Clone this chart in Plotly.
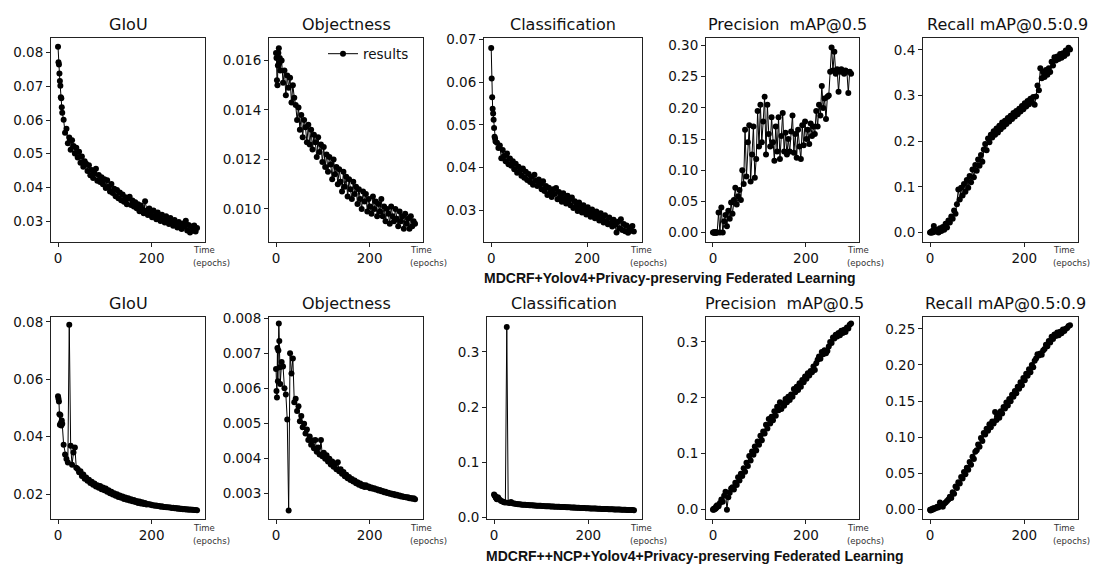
import plotly.graph_objects as go

W, H = 1097, 574

epochs = list(range(0, 10)) + list(range(12, 300, 3))

# ---- Row 1: MDCRF+Yolov4+Privacy-preserving Federated Learning ----
top_giou = [
    0.0818, 0.0772, 0.0765, 0.0738, 0.0716, 0.0702, 0.0668, 0.0665, 0.0638, 0.0622,
    0.0601, 0.0562, 0.0574, 0.0531, 0.0548, 0.0512, 0.0540, 0.0523, 0.0501, 0.0518,
    0.0489, 0.0506, 0.0473, 0.0492, 0.0461, 0.0478, 0.0470, 0.0449, 0.0466, 0.0436,
    0.0452, 0.0428, 0.0441, 0.0455, 0.0420, 0.0437, 0.0416, 0.0430, 0.0409, 0.0424,
    0.0398, 0.0421, 0.0402, 0.0388, 0.0410, 0.0383, 0.0396, 0.0374, 0.0392, 0.0368,
    0.0385, 0.0362, 0.0379, 0.0357, 0.0371, 0.0350, 0.0366, 0.0372, 0.0348, 0.0361,
    0.0343, 0.0356, 0.0338, 0.0350, 0.0329, 0.0346, 0.0336, 0.0323, 0.0359, 0.0331,
    0.0318, 0.0337, 0.0322, 0.0311, 0.0331, 0.0316, 0.0305, 0.0325, 0.0312, 0.0300,
    0.0319, 0.0303, 0.0296, 0.0314, 0.0299, 0.0291, 0.0309, 0.0294, 0.0286, 0.0303,
    0.0291, 0.0281, 0.0297, 0.0287, 0.0276, 0.0293, 0.0283, 0.0301, 0.0272, 0.0288,
    0.0266, 0.0284, 0.0271, 0.0287, 0.0269, 0.0279,
]
top_obj = [
    0.0163, 0.0161, 0.0152, 0.0150, 0.0158, 0.0163, 0.0165, 0.0159, 0.0161, 0.0156,
    0.0160, 0.0151, 0.0156, 0.0146, 0.0154, 0.0149, 0.0153, 0.0143, 0.0150, 0.0145,
    0.0142, 0.0136, 0.0141, 0.0132, 0.0138, 0.0129, 0.0136, 0.0133, 0.0127, 0.0134,
    0.0126, 0.0132, 0.0124, 0.0130, 0.0127, 0.0121, 0.0129, 0.0123, 0.0126, 0.0119,
    0.0125, 0.0117, 0.0122, 0.0115, 0.0121, 0.0118, 0.0112, 0.0120, 0.0114, 0.0117,
    0.0110, 0.0116, 0.0111, 0.0107, 0.0115, 0.0109, 0.0113, 0.0105, 0.0112, 0.0108,
    0.0104, 0.0111, 0.0106, 0.0109, 0.0102, 0.0108, 0.0104, 0.0100, 0.0107, 0.0103,
    0.0106, 0.0099, 0.0104, 0.0101, 0.0098, 0.0105, 0.0100, 0.0103, 0.0097, 0.0102,
    0.0099, 0.0104, 0.0097, 0.0101, 0.0095, 0.0100, 0.0098, 0.0094, 0.0101, 0.0097,
    0.0095, 0.0100, 0.0096, 0.0093, 0.0099, 0.0095, 0.0097, 0.0092, 0.0098, 0.0094,
    0.0096, 0.0092, 0.0097, 0.0093, 0.0095, 0.0094,
]
top_cls = [
    0.0680, 0.0609, 0.0565, 0.0538, 0.0527, 0.0512, 0.0493, 0.0472, 0.0468, 0.0461,
    0.0458, 0.0446, 0.0452, 0.0422, 0.0441, 0.0427, 0.0415, 0.0433, 0.0408, 0.0421,
    0.0404, 0.0415, 0.0396, 0.0409, 0.0388, 0.0402, 0.0392, 0.0381, 0.0398, 0.0376,
    0.0390, 0.0371, 0.0385, 0.0366, 0.0378, 0.0360, 0.0383, 0.0369, 0.0357, 0.0372,
    0.0361, 0.0349, 0.0368, 0.0345, 0.0357, 0.0336, 0.0353, 0.0341, 0.0331, 0.0349,
    0.0338, 0.0352, 0.0326, 0.0343, 0.0331, 0.0320, 0.0340, 0.0327, 0.0316, 0.0334,
    0.0323, 0.0312, 0.0330, 0.0305, 0.0321, 0.0310, 0.0298, 0.0318, 0.0306, 0.0295,
    0.0312, 0.0300, 0.0290, 0.0307, 0.0295, 0.0285, 0.0302, 0.0291, 0.0281, 0.0297,
    0.0286, 0.0276, 0.0293, 0.0280, 0.0271, 0.0288, 0.0275, 0.0267, 0.0283, 0.0270,
    0.0262, 0.0278, 0.0266, 0.0248, 0.0273, 0.0258, 0.0279, 0.0254, 0.0268, 0.0251,
    0.0264, 0.0247, 0.0259, 0.0252, 0.0263, 0.0250,
]
top_prec = [
    0.000, 0.000, 0.000, 0.000, 0.000, 0.000, 0.000, 0.000, 0.000, 0.000,
    0.032, 0.000, 0.040, 0.000, 0.018, 0.028, 0.010, 0.035, 0.022, 0.048,
    0.030, 0.052, 0.072, 0.045, 0.058, 0.068, 0.052, 0.100, 0.078, 0.165,
    0.090, 0.145, 0.172, 0.082, 0.125, 0.170, 0.088, 0.118, 0.195, 0.138,
    0.205, 0.145, 0.178, 0.218, 0.125, 0.205, 0.158, 0.138, 0.185, 0.145,
    0.115, 0.170, 0.130, 0.185, 0.118, 0.155, 0.192, 0.130, 0.160, 0.125,
    0.150, 0.130, 0.162, 0.188, 0.128, 0.158, 0.120, 0.165, 0.138, 0.118,
    0.172, 0.140, 0.178, 0.150, 0.165, 0.142, 0.175, 0.155, 0.170, 0.158,
    0.195, 0.170, 0.205, 0.188, 0.235, 0.200, 0.215, 0.182, 0.218, 0.220,
    0.258, 0.297, 0.260, 0.290, 0.255, 0.262, 0.226, 0.258, 0.262, 0.258,
    0.255, 0.260, 0.258, 0.224, 0.258, 0.255,
]
top_rec = [
    0.000, 0.000, 0.001, 0.000, 0.002, 0.000, 0.004, 0.001, 0.014, 0.003,
    0.002, 0.006, 0.000, 0.009, 0.003, 0.012, 0.006, 0.019, 0.011, 0.026,
    0.022, 0.035, 0.030, 0.048, 0.041, 0.062, 0.094, 0.072, 0.098, 0.081,
    0.106, 0.089, 0.115, 0.098, 0.124, 0.110, 0.138, 0.121, 0.148, 0.135,
    0.160, 0.146, 0.170, 0.155, 0.182, 0.194, 0.180, 0.206, 0.198, 0.214,
    0.208, 0.222, 0.214, 0.228, 0.219, 0.234, 0.226, 0.241, 0.232, 0.245,
    0.238, 0.251, 0.243, 0.256, 0.249, 0.262, 0.254, 0.266, 0.259, 0.271,
    0.265, 0.277, 0.270, 0.283, 0.276, 0.288, 0.281, 0.293, 0.286, 0.297,
    0.280, 0.298, 0.322, 0.312, 0.360, 0.338, 0.352, 0.341, 0.356, 0.346,
    0.360, 0.352, 0.374, 0.366, 0.384, 0.377, 0.386, 0.380, 0.391, 0.383,
    0.393, 0.387, 0.399, 0.392, 0.405, 0.401,
]

# ---- Row 2: MDCRF++NCP+Yolov4+Privacy-preserving Federated Learning ----
bot_giou = [
    0.0541, 0.0532, 0.0523, 0.0478, 0.0442, 0.0476, 0.0448, 0.0439, 0.0456, 0.0445,
    0.0372, 0.0338, 0.0322, 0.0310, 0.0790, 0.0368, 0.0302, 0.0345, 0.0362, 0.0292,
    0.0287, 0.0276, 0.0279, 0.0263, 0.0268, 0.0253, 0.0258, 0.0246, 0.0250, 0.0238,
    0.0243, 0.0232, 0.0237, 0.0226, 0.0231, 0.0222, 0.0228, 0.0217, 0.0223, 0.0213,
    0.0219, 0.0208, 0.0213, 0.0203, 0.0208, 0.0198, 0.0203, 0.0194, 0.0199, 0.0190,
    0.0195, 0.0187, 0.0191, 0.0183, 0.0188, 0.0180, 0.0185, 0.0177, 0.0182, 0.0175,
    0.0179, 0.0172, 0.0176, 0.0169, 0.0174, 0.0167, 0.0171, 0.0165, 0.0169, 0.0163,
    0.0165, 0.0163, 0.0163, 0.0161, 0.0161, 0.0159, 0.0160, 0.0158, 0.0158, 0.0156,
    0.0157, 0.0155, 0.0155, 0.0154, 0.0154, 0.0153, 0.0153, 0.0151, 0.0152, 0.0150,
    0.0151, 0.0149, 0.0150, 0.0148, 0.0149, 0.0147, 0.0148, 0.0146, 0.0147, 0.0145,
    0.0146, 0.0145, 0.0145, 0.0144, 0.0144, 0.0143,
]
bot_obj = [
    0.00655, 0.00592, 0.00573, 0.00715, 0.00620, 0.00708, 0.00785, 0.00735, 0.00660, 0.00612,
    0.00675, 0.00662, 0.00600, 0.00582, 0.00510, 0.00250, 0.00700, 0.00642, 0.00685, 0.00560,
    0.00570, 0.00535, 0.00548, 0.00505, 0.00520, 0.00488, 0.00498, 0.00470, 0.00482, 0.00452,
    0.00462, 0.00438, 0.00450, 0.00428, 0.00452, 0.00418, 0.00430, 0.00410, 0.00452, 0.00405,
    0.00415, 0.00398, 0.00408, 0.00390, 0.00398, 0.00382, 0.00390, 0.00375, 0.00383, 0.00368,
    0.00388, 0.00362, 0.00368, 0.00355, 0.00360, 0.00348, 0.00352, 0.00342, 0.00346, 0.00337,
    0.00340, 0.00333, 0.00336, 0.00328, 0.00331, 0.00324, 0.00327, 0.00320, 0.00323, 0.00317,
    0.00322, 0.00317, 0.00319, 0.00314, 0.00316, 0.00312, 0.00314, 0.00310, 0.00311, 0.00307,
    0.00309, 0.00305, 0.00306, 0.00302, 0.00304, 0.00300, 0.00301, 0.00298, 0.00299, 0.00296,
    0.00297, 0.00294, 0.00295, 0.00292, 0.00293, 0.00290, 0.00291, 0.00289, 0.00289, 0.00287,
    0.00288, 0.00285, 0.00286, 0.00284, 0.00285, 0.00282,
]
bot_cls = [
    0.0412, 0.0398, 0.0385, 0.0371, 0.0352, 0.0340, 0.0328, 0.0335, 0.0362, 0.0348,
    0.0318, 0.0296, 0.0284, 0.0272, 0.0265, 0.3450, 0.0262, 0.0258, 0.0278, 0.0255,
    0.0248, 0.0243, 0.0240, 0.0236, 0.0233, 0.0230, 0.0228, 0.0226, 0.0224, 0.0222,
    0.0220, 0.0218, 0.0217, 0.0215, 0.0213, 0.0212, 0.0210, 0.0209, 0.0207, 0.0206,
    0.0204, 0.0203, 0.0201, 0.0200, 0.0198, 0.0197, 0.0196, 0.0194, 0.0193, 0.0192,
    0.0190, 0.0189, 0.0188, 0.0186, 0.0185, 0.0184, 0.0183, 0.0181, 0.0180, 0.0179,
    0.0178, 0.0176, 0.0175, 0.0174, 0.0173, 0.0171, 0.0170, 0.0169, 0.0168, 0.0166,
    0.0165, 0.0164, 0.0163, 0.0162, 0.0160, 0.0159, 0.0158, 0.0157, 0.0156, 0.0155,
    0.0154, 0.0153, 0.0151, 0.0150, 0.0149, 0.0148, 0.0147, 0.0146, 0.0145, 0.0144,
    0.0143, 0.0142, 0.0141, 0.0140, 0.0139, 0.0138, 0.0137, 0.0136, 0.0135, 0.0134,
    0.0133, 0.0132, 0.0131, 0.0130, 0.0129, 0.0128,
]
bot_prec = [
    0.000, 0.001, 0.000, 0.002, 0.001, 0.003, 0.002, 0.006, 0.004, 0.008,
    0.006, 0.012, 0.018, 0.014, 0.025, 0.032, 0.000, 0.022, 0.030, 0.038,
    0.040, 0.036, 0.048, 0.044, 0.058, 0.052, 0.064, 0.060, 0.074, 0.068,
    0.084, 0.078, 0.096, 0.088, 0.104, 0.098, 0.113, 0.106, 0.122, 0.116,
    0.132, 0.124, 0.140, 0.136, 0.152, 0.145, 0.162, 0.154, 0.166, 0.160,
    0.176, 0.168, 0.184, 0.178, 0.192, 0.180, 0.190, 0.186, 0.198, 0.192,
    0.202, 0.196, 0.206, 0.202, 0.216, 0.210, 0.220, 0.214, 0.226, 0.220,
    0.232, 0.228, 0.238, 0.234, 0.244, 0.240, 0.248, 0.246, 0.256, 0.250,
    0.262, 0.268, 0.274, 0.270, 0.282, 0.278, 0.285, 0.280, 0.284, 0.292,
    0.300, 0.298, 0.308, 0.306, 0.313, 0.310, 0.316, 0.312, 0.320, 0.316,
    0.322, 0.318, 0.326, 0.324, 0.331, 0.333,
]
bot_rec = [
    0.000, -0.001, 0.000, 0.000, 0.001, 0.000, 0.001, 0.002, 0.001, 0.002,
    0.002, 0.004, 0.003, 0.010, 0.006, 0.004, 0.008, 0.010, 0.012, 0.014,
    0.018, 0.016, 0.024, 0.022, 0.032, 0.030, 0.038, 0.036, 0.045, 0.043,
    0.052, 0.049, 0.058, 0.055, 0.066, 0.062, 0.073, 0.070, 0.080, 0.082,
    0.090, 0.087, 0.099, 0.095, 0.106, 0.104, 0.112, 0.109, 0.118, 0.114,
    0.122, 0.119, 0.135, 0.124, 0.130, 0.127, 0.136, 0.133, 0.142, 0.140,
    0.148, 0.144, 0.153, 0.150, 0.159, 0.156, 0.164, 0.161, 0.170, 0.167,
    0.176, 0.172, 0.182, 0.179, 0.188, 0.185, 0.194, 0.190, 0.200, 0.197,
    0.206, 0.209, 0.215, 0.213, 0.216, 0.214, 0.220, 0.222, 0.228, 0.226,
    0.233, 0.231, 0.239, 0.236, 0.242, 0.240, 0.245, 0.241, 0.246, 0.244,
    0.249, 0.247, 0.250, 0.251, 0.254, 0.255,
]

titles = ["GIoU", "Objectness", "Classification",
          "Precision\u00a0\u00a0mAP@0.5", "Recall\u00a0mAP@0.5:0.9"]
captions = ["MDCRF+Yolov4+Privacy-preserving Federated Learning",
            "MDCRF++NCP+Yolov4+Privacy-preserving Federated Learning"]

# panel layout (window pixels) and axis settings
panels = [
    # data, row, (x0, x1), yrange, dtick, format, title x-centre, "Time" left
    (top_giou, 0, (51, 205), [0.0239, 0.0843], 0.01, ".2f", 128, 191),
    (top_obj, 0, (269, 423), [0.00868, 0.0169], 0.002, ".3f", 346, 408),
    (top_cls, 0, (484, 642), [0.02266, 0.0703], 0.01, ".2f", 563, 628),
    (top_prec, 0, (706, 859), [-0.0146, 0.3118], 0.05, ".2f", 787, 845),
    (top_rec, 0, (923, 1078), [-0.0200, 0.4257], 0.1, ".1f", 1007, 1051),
    (bot_giou, 1, (51, 205), [0.01124, 0.0818], 0.02, ".2f", 128, 191),
    (bot_obj, 1, (269, 423), [0.002254, 0.00804], 0.001, ".3f", 346, 408),
    (bot_cls, 1, (487, 642), [-0.0035, 0.3637], 0.1, ".1f", 564, 628),
    (bot_prec, 1, (706, 859), [-0.017, 0.345], 0.1, ".1f", 784, 845),
    (bot_rec, 1, (923, 1078), [-0.0131, 0.2666], 0.05, ".2f", 1005, 1051),
]
row_y = [(32, 240), (317, 524)]
title_y = [18, 303]
caption_pos = [(670, 277), (695, 562)]


def px(x):
    return x / W


def py(y):
    return 1 - y / H


FONT = "DejaVu Sans"
fig = go.Figure()
layout = {}
annotations = []

for i, (vals, row, (x0, x1), yr, dt, fmt, tx, tl) in enumerate(panels):
    n = i + 1
    xname = "x" if n == 1 else f"x{n}"
    yname = "y" if n == 1 else f"y{n}"
    fig.add_trace(go.Scatter(
        x=epochs, y=vals, mode="lines+markers", name="results",
        line=dict(color="black", width=1),
        marker=dict(color="black", size=6),
        showlegend=(i == 1), xaxis=xname, yaxis=yname,
    ))
    ytop, ybot = row_y[row]
    common = dict(showline=True, linecolor="#222", linewidth=1, mirror=True,
                  ticks="outside", ticklen=4, tickwidth=1, tickcolor="#222",
                  showgrid=False, zeroline=False,
                  tickfont=dict(family=FONT, size=13.5, color="#111"))
    layout["xaxis" if n == 1 else f"xaxis{n}"] = dict(
        domain=[px(x0), px(x1)], range=[-15, 314], anchor=yname,
        tickmode="linear", tick0=0, dtick=200, **common)
    layout["yaxis" if n == 1 else f"yaxis{n}"] = dict(
        domain=[py(ybot), py(ytop)], range=yr, anchor=xname,
        tickmode="linear", tick0=0, dtick=dt, tickformat=fmt, **common)
    col = i % 5
    annotations.append(dict(
        text=titles[col], x=px(tx), y=py(title_y[row]), xref="paper", yref="paper",
        xanchor="center", yanchor="middle", showarrow=False,
        font=dict(family=FONT, size=16, color="#111")))
    annotations.append(dict(
        text="Time", x=px(tl), y=py(ybot + 9), xref="paper", yref="paper",
        xanchor="left", yanchor="middle", showarrow=False,
        font=dict(family=FONT, size=8.5, color="#333")))
    annotations.append(dict(
        text="(epochs)", x=px(tl), y=py(ybot + 22), xref="paper", yref="paper",
        xanchor="left", yanchor="middle", showarrow=False,
        font=dict(family=FONT, size=8.5, color="#333")))

for cap, (cx, cy) in zip(captions, caption_pos):
    annotations.append(dict(
        text=f"<b>{cap}</b>", x=px(cx), y=py(cy), xref="paper", yref="paper",
        xanchor="center", yanchor="middle", showarrow=False,
        font=dict(family="Liberation Sans", size=14, color="#111")))

fig.update_layout(
    width=W, height=H, margin=dict(l=0, r=0, t=0, b=0),
    paper_bgcolor="white", plot_bgcolor="white",
    annotations=annotations,
    legend=dict(x=px(323), y=py(48), xanchor="left", yanchor="middle",
                bgcolor="rgba(0,0,0,0)", font=dict(family=FONT, size=13.5, color="#111")),
    **layout,
)

# remove the browser's default page margin so the figure fills the window
fig.write_html("out.html", config={"displayModeBar": False},
               post_script="document.body.style.margin='0px';document.body.style.overflow='hidden';")
